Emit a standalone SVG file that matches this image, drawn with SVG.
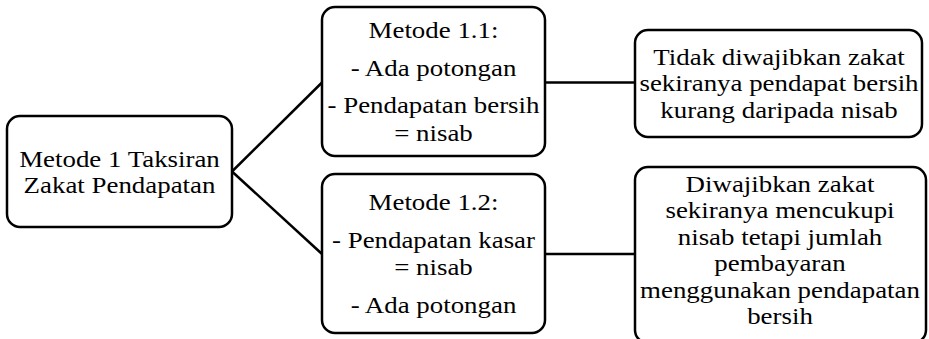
<svg xmlns="http://www.w3.org/2000/svg" width="929" height="339" viewBox="0 0 929 339">
<style>
.box{fill:#fff;stroke:#000;stroke-width:2.5}
.t{font-family:"Liberation Serif","Times New Roman",serif;font-size:23.8px;fill:#000;text-anchor:middle}
.c{stroke:#000;stroke-width:2.5;fill:none}
</style>
<rect width="929" height="339" fill="#fff"/>
<g id="connectors">
<line class="c" x1="232" y1="171.5" x2="322" y2="82.5"/>
<line class="c" x1="232" y1="171.5" x2="322" y2="254"/>
<line class="c" x1="545" y1="82.5" x2="635" y2="82.5"/>
<line class="c" x1="545" y1="254" x2="635" y2="254"/>
</g>
<g id="root">
<rect class="box" x="7" y="116" width="225" height="111" rx="13"/>
<text class="t" transform="translate(119.5 0) scale(1.13 1)"><tspan x="0" y="167">Metode 1 Taksiran</tspan><tspan x="0" y="193.5">Zakat Pendapatan</tspan></text>
</g>
<g id="m11">
<rect class="box" x="322" y="7" width="223" height="149" rx="13"/>
<text class="t" transform="translate(433.5 0) scale(1.13 1)"><tspan x="0" y="38">Metode 1.1:</tspan><tspan x="0" y="76">- Ada potongan</tspan><tspan x="0" y="113.5">- Pendapatan bersih</tspan><tspan x="0" y="141">= nisab</tspan></text>
</g>
<g id="m12">
<rect class="box" x="322" y="174" width="223" height="159" rx="13"/>
<text class="t" transform="translate(433.5 0) scale(1.13 1)"><tspan x="0" y="210">Metode 1.2:</tspan><tspan x="0" y="248">- Pendapatan kasar</tspan><tspan x="0" y="275">= nisab</tspan><tspan x="0" y="313">- Ada potongan</tspan></text>
</g>
<g id="r1">
<rect class="box" x="635" y="30" width="287" height="107" rx="13"/>
<text class="t" transform="translate(779 0) scale(1.13 1)"><tspan x="0" y="65">Tidak diwajibkan zakat</tspan><tspan x="0" y="91.5">sekiranya pendapat bersih</tspan><tspan x="0" y="118">kurang daripada nisab</tspan></text>
</g>
<g id="r2">
<rect class="box" x="635" y="167" width="291" height="176" rx="13"/>
<text class="t" transform="translate(780 0) scale(1.13 1)"><tspan x="0" y="192">Diwajibkan zakat</tspan><tspan x="0" y="218.5">sekiranya mencukupi</tspan><tspan x="0" y="245">nisab tetapi jumlah</tspan><tspan x="0" y="271.5">pembayaran</tspan><tspan x="0" y="298">menggunakan pendapatan</tspan><tspan x="0" y="324.5">bersih</tspan></text>
</g>
</svg>
